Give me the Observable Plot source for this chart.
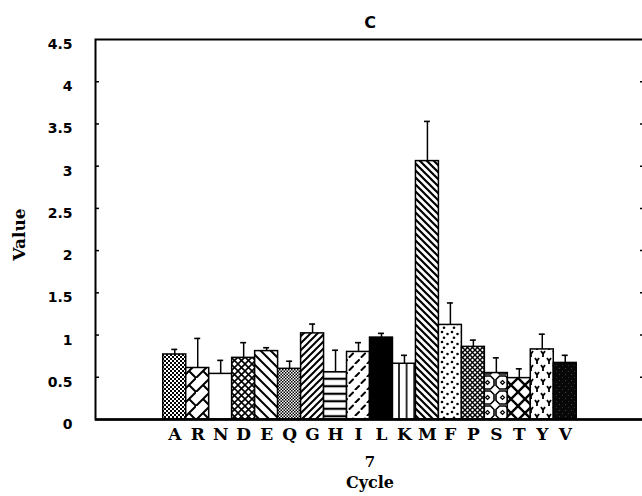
<!DOCTYPE html>
<html><head><meta charset="utf-8">
<script src="https://cdn.jsdelivr.net/npm/d3@7"></script>
<script src="https://cdn.jsdelivr.net/npm/@observablehq/plot@0.6"></script>
<style>html,body{margin:0;padding:0;background:#fff;overflow:hidden}</style>
</head><body>
<svg width="0" height="0" style="position:absolute">
<defs>
<pattern id="pat-A" width="4" height="4" patternUnits="userSpaceOnUse"><rect width="4" height="4" fill="#fff"/><rect width="2" height="2" fill="#000"/><rect x="2" y="2" width="2" height="2" fill="#000"/></pattern>
<pattern id="pat-Q" width="3" height="3" patternUnits="userSpaceOnUse"><rect width="3" height="3" fill="#fff"/><rect width="1.5" height="1.5" fill="#000"/><rect x="1.5" y="1.5" width="1.5" height="1.5" fill="#000"/></pattern>
<pattern id="pat-R" width="14" height="14" patternUnits="userSpaceOnUse"><rect width="14" height="14" fill="#fff"/><path d="M-1,15 L15,-1 M7,7 L15,15 M-1,-1 L0,0" stroke="#000" stroke-width="2" fill="none"/></pattern>
<pattern id="pat-N" width="4" height="4" patternUnits="userSpaceOnUse"><rect width="4" height="4" fill="#fff"/></pattern>
<pattern id="pat-D" width="7" height="7" patternUnits="userSpaceOnUse"><rect width="7" height="7" fill="#fff"/><path d="M0,0 L7,7 M7,0 L0,7" stroke="#000" stroke-width="1.6"/></pattern>
<pattern id="pat-E" width="10" height="10" patternUnits="userSpaceOnUse"><rect width="10" height="10" fill="#fff"/><path d="M-5,5 L5,15 M0,0 L10,10 M5,-5 L15,5" stroke="#000" stroke-width="2"/></pattern>
<pattern id="pat-G" width="7" height="7" patternUnits="userSpaceOnUse"><rect width="7" height="7" fill="#fff"/><path d="M-3.5,3.5 L3.5,-3.5 M0,7 L7,0 M3.5,10.5 L10.5,3.5" stroke="#000" stroke-width="2"/></pattern>
<pattern id="pat-H" width="4" height="7.5" patternUnits="userSpaceOnUse"><rect width="4" height="7.5" fill="#fff"/><path d="M0,3.75 L4,3.75" stroke="#000" stroke-width="2.2"/></pattern>
<pattern id="pat-I" width="12" height="13" patternUnits="userSpaceOnUse"><rect width="12" height="13" fill="#fff"/><path d="M1.5,6 L5,2.5 M7.5,12.5 L11,9" stroke="#000" stroke-width="2" stroke-linecap="round"/></pattern>
<pattern id="pat-L" width="4" height="4" patternUnits="userSpaceOnUse"><rect width="4" height="4" fill="#000"/></pattern>
<pattern id="pat-K" width="7.6" height="4" patternUnits="userSpaceOnUse"><rect width="7.6" height="4" fill="#fff"/><path d="M3.8,0 L3.8,4" stroke="#000" stroke-width="1.6"/></pattern>
<pattern id="pat-M" width="7" height="7" patternUnits="userSpaceOnUse"><rect width="7" height="7" fill="#fff"/><path d="M-3.5,3.5 L3.5,10.5 M0,0 L7,7 M3.5,-3.5 L10.5,3.5" stroke="#000" stroke-width="2.2"/></pattern>
<pattern id="pat-F" width="10" height="10" patternUnits="userSpaceOnUse"><rect width="10" height="10" fill="#fff"/><circle cx="2" cy="2" r="1.3" fill="#000"/><circle cx="7.5" cy="4" r="1.3" fill="#000"/><circle cx="4" cy="7.8" r="1.3" fill="#000"/></pattern>
<pattern id="pat-P" width="5" height="5" patternUnits="userSpaceOnUse"><rect width="5" height="5" fill="#fff"/><path d="M0,0 L5,5 M5,0 L0,5" stroke="#000" stroke-width="1.4"/></pattern>
<pattern id="pat-S" width="15" height="15" patternUnits="userSpaceOnUse"><rect width="15" height="15" fill="#fff"/><path d="M4.5,1 L10.5,1 L14,4.5 L14,10.5 L10.5,14 L4.5,14 L1,10.5 L1,4.5 Z" fill="none" stroke="#000" stroke-width="1.6"/><path d="M7.5,5.5 L9.5,7.5 L7.5,9.5 L5.5,7.5 Z" fill="none" stroke="#000" stroke-width="1.2"/></pattern>
<pattern id="pat-T" width="14" height="14" patternUnits="userSpaceOnUse"><rect width="14" height="14" fill="#fff"/><path d="M0,0 L14,14 M14,0 L0,14" stroke="#000" stroke-width="2.4"/></pattern>
<pattern id="pat-Y" width="12" height="14" patternUnits="userSpaceOnUse"><rect width="12" height="14" fill="#fff"/><path d="M1,1 Q3,4 3,4 Q5,1 5,1 M3,4 L3,7 M7,8 Q9,11 9,11 Q11,8 11,8 M9,11 L9,14" stroke="#000" stroke-width="1.8" fill="none"/></pattern>
<pattern id="pat-V" width="6" height="6" patternUnits="userSpaceOnUse"><rect width="6" height="6" fill="#080808"/><rect x="1" y="2" width="1" height="1" fill="#444"/><rect x="4" y="5" width="1" height="1" fill="#333"/></pattern>
</defs></svg>
<div id="chart"></div>
<script>
const residues = ["A","R","N","D","E","Q","G","H","I","L","K","M","F","P","S","T","Y","V"];
const values = [0.77,0.61,0.54,0.73,0.81,0.60,1.02,0.56,0.80,0.97,0.66,3.06,1.12,0.86,0.55,0.49,0.83,0.67];
const errors = [0.06,0.35,0.16,0.18,0.04,0.09,0.11,0.26,0.11,0.05,0.10,0.47,0.26,0.08,0.18,0.11,0.18,0.09];
const yTicks = [0,0.5,1,1.5,2,2.5,3,3.5,4,4.5];
const title = "C", xSubLabel = "7", xLabel = "Cycle", yLabel = "Value";

const data = residues.map((r, i) => ({aa: r, value: values[i], err: errors[i]}));
const fillOf = d => `url(#pat-${d.aa})`;
const serif = "'DejaVu Serif', 'Liberation Serif', serif";
const sans = "'DejaVu Sans', 'Liberation Sans', sans-serif";
const frameW = 644 - 95;
const inner = yTicks.slice(1, -1);

const chart = Plot.plot({
  width: 650, height: 496,
  marginLeft: 95, marginRight: 6, marginTop: 39, marginBottom: 77,
  style: {background: "#fff", color: "#000", fontFamily: sans, maxWidth: "none"},
  x: {domain: residues, paddingInner: 0, paddingOuter: 2.95, align: 0.5, round: false},
  y: {domain: [0, 4.5]},
  color: {type: "identity"},
  marks: [
    Plot.barY(data, {x: "aa", y: "value", fill: fillOf, stroke: "#000", strokeWidth: 1.5}),
    Plot.ruleX(data, {x: "aa", y1: "value", y2: d => d.value + d.err, stroke: "#000", strokeWidth: 1.5}),
    Plot.tickY(data, {x: "aa", y: d => d.value + d.err, inset: 8.5, stroke: "#000", strokeWidth: 1.6}),
    Plot.tickY(inner, {y: d => d, insetRight: frameW - 4, stroke: "#000", strokeWidth: 1.5}),
    Plot.tickY(inner, {y: d => d, insetLeft: frameW - 4, stroke: "#000", strokeWidth: 1.5}),
    Plot.frame({stroke: "#000", strokeWidth: 2}),
    Plot.ruleY([0], {stroke: "#000", strokeWidth: 2.5}),
    Plot.axisY({ticks: yTicks, tickSize: 0, tickPadding: 23, tickFormat: d => String(d), fontSize: 14, fontWeight: "bold", dy: 5, label: null}),
    Plot.axisX({tickSize: 0, tickPadding: 8, fontSize: 17, fontWeight: "bold", fontFamily: serif, label: null}),
    Plot.text([title], {text: d => d, frameAnchor: "top", lineAnchor: "middle", dy: -17, fontSize: 16, fontWeight: "bold"}),
    Plot.text([yLabel], {text: d => d, frameAnchor: "left", textAnchor: "middle", lineAnchor: "middle", dx: -76, dy: 5, rotate: -90, fontSize: 17, fontWeight: "bold", fontFamily: serif}),
    Plot.text([xSubLabel], {text: d => d, frameAnchor: "bottom", lineAnchor: "middle", dy: 43, fontSize: 15, fontWeight: "bold", fontFamily: serif}),
    Plot.text([xLabel], {text: d => d, frameAnchor: "bottom", lineAnchor: "middle", dy: 63, fontSize: 16, fontWeight: "bold", fontFamily: serif})
  ]
});
document.getElementById("chart").appendChild(chart);
</script>
</body></html>
